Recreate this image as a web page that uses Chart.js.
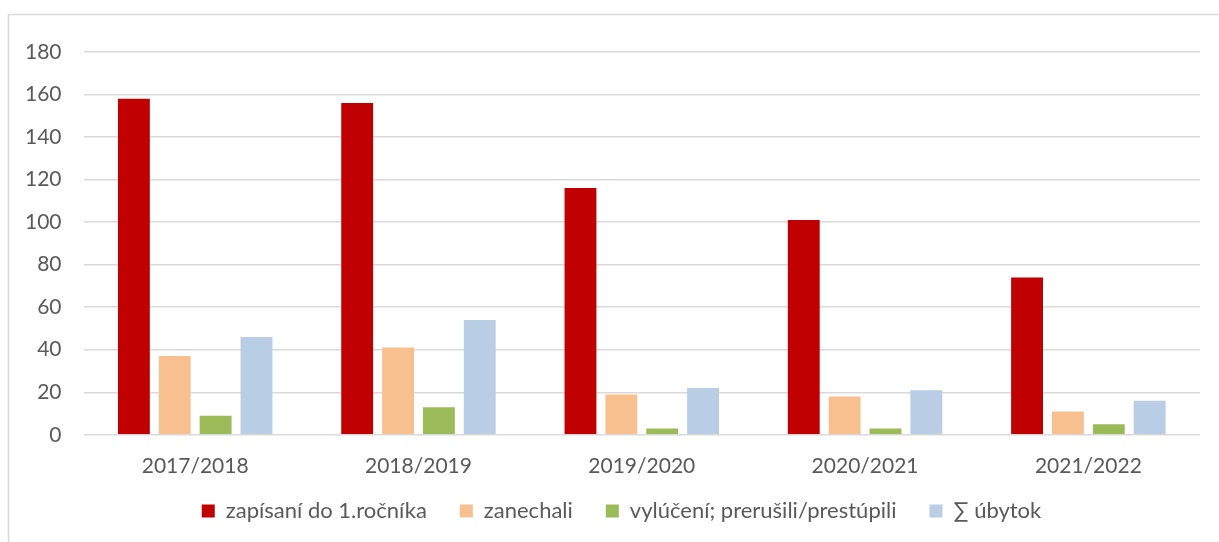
<!DOCTYPE html>
<html>
<head>
<meta charset="utf-8">
<script src="https://cdn.jsdelivr.net/npm/chart.js@4"></script>
<style>
  html, body { margin: 0; padding: 0; background: #fff; }
  #wrap { width: 1219px; height: 542px; position: relative; }
</style>
</head>
<body>
<div id="wrap"><canvas id="myBarChart" width="1219" height="542"></canvas></div>
<script>
var years = ["2017/2018", "2018/2019", "2019/2020", "2020/2021", "2021/2022"];
var zapisani = [158, 156, 116, 101, 74];
var zanechali = [37, 41, 19, 18, 11];
var vyluceni = [9, 13, 3, 3, 5];
var ubytok = [46, 54, 22, 21, 16];
var yTicks = [0, 20, 40, 60, 80, 100, 120, 140, 160, 180];

var fontFamily = "Lato, 'Open Sans', sans-serif";
var textColor = "#595959";

// light frame around the chart, like the exported picture
var frame = {
  id: "frame",
  beforeDraw: function (chart) {
    var ctx = chart.ctx;
    ctx.save();
    ctx.strokeStyle = "#d9d9d9";
    ctx.lineWidth = 1.5;
    ctx.beginPath();
    ctx.moveTo(8.5, chart.height);
    ctx.lineTo(8.5, 14.5);
    ctx.lineTo(chart.width, 14.5);
    ctx.stroke();
    ctx.restore();
  }
};

// legend: wide gaps between items but sitting close to the axis labels,
// so pull its box up (bottom stays put so nothing is clipped)
var legendNudge = {
  id: "legendNudge",
  afterLayout: function (chart) {
    var lg = chart.legend;
    if (!lg) return;
    lg.top -= 23;
    lg.left += 20; lg.right += 20;
  }
};

window.myBarChart = new Chart("myBarChart", {
  type: "bar",
  data: {
    labels: years,
    datasets: [
      { label: "zapísaní do 1.ročníka", backgroundColor: "#C00000", data: zapisani },
      { label: "zanechali", backgroundColor: "#F9C08F", data: zanechali },
      { label: "vylúčení; prerušili/prestúpili", backgroundColor: "#9BBB59", data: vyluceni },
      { label: "∑ úbytok", backgroundColor: "#B9CDE5", data: ubytok }
    ]
  },
  plugins: [frame, legendNudge],
  options: {
    responsive: false,
    animation: false,
    layout: { padding: { left: 3, right: 19, top: 52, bottom: 0 } },
    datasets: {
      bar: { categoryPercentage: 0.732, barPercentage: 0.78 }
    },
    plugins: {
      legend: {
        position: "bottom",
        maxHeight: 52,
        labels: {
          boxWidth: 13,
          boxHeight: 13,
          padding: 33,
          color: textColor,
          font: { family: fontFamily, size: 22 }
        }
      },
      tooltip: { enabled: false }
    },
    scales: {
      x: {
        grid: { display: false },
        border: { display: false },
        ticks: { color: textColor, padding: 11, font: { family: fontFamily, size: 21 } }
      },
      y: {
        min: 0,
        max: 180,
        afterBuildTicks: function (axis) {
          axis.ticks = yTicks.map(function (v) { return { value: v }; });
        },
        grid: { color: "#d9d9d9", lineWidth: 1.5, drawTicks: false },
        border: { display: false },
        ticks: { color: textColor, padding: 22, font: { family: fontFamily, size: 21 } }
      }
    }
  }
});
</script>
</body>
</html>
